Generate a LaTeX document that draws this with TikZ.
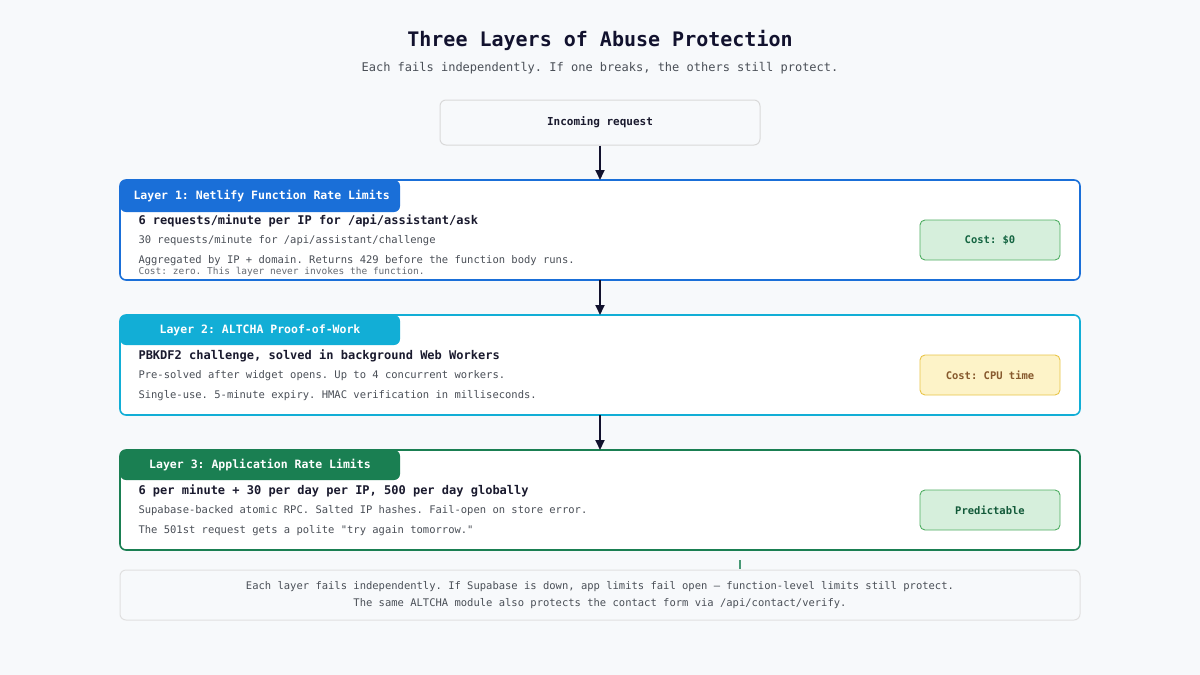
\documentclass[tikz,border=0pt]{standalone}
\usepackage{fontspec}
\setmonofont{DejaVu Sans Mono}
\usetikzlibrary{arrows.meta}
\definecolor{bg}{HTML}{F7F9FB}
\definecolor{navy}{HTML}{12122E}
\definecolor{blueL}{HTML}{1A6FD8}
\definecolor{cyanL}{HTML}{12AED6}
\definecolor{greenL}{HTML}{1A7F52}
\definecolor{txt}{HTML}{1A1A2E}
\definecolor{gtxt}{HTML}{4A4F57}
\definecolor{gbox}{HTML}{D6EFDC}
\definecolor{gboxb}{HTML}{4FAE62}
\definecolor{ybox}{HTML}{FDF3C8}
\definecolor{yboxb}{HTML}{E9C548}
\tikzset{
 every node/.style={font=\ttfamily},
 layer/.style={draw=#1,line width=1.6pt,fill=white,rounded corners=6pt},
 tab/.style={fill=#1,rounded corners=6pt},
 tabt/.style={text=white,font=\ttfamily\bfseries\fontsize{11.5}{13}\selectfont,anchor=west},
 main/.style={text=txt,font=\ttfamily\bfseries\fontsize{12}{14}\selectfont,anchor=west},
 sub/.style={text=gtxt,font=\ttfamily\fontsize{10.5}{12}\selectfont,anchor=west},
 tiny/.style={text=gtxt!85,font=\ttfamily\fontsize{9.5}{11}\selectfont,anchor=west},
 cost/.style={rounded corners=5pt,line width=0.9pt,minimum width=140pt,minimum height=40pt,font=\ttfamily\bfseries\fontsize{10.5}{12}\selectfont},
 arr/.style={-{Triangle[length=10pt,width=9pt]},line width=1.8pt,draw=navy},
}
\begin{document}
\begin{tikzpicture}[x=1pt,y=-1pt]
\useasboundingbox (0,0) rectangle (1200,675);
\fill[bg] (0,0) rectangle (1200,675);
\node[font=\ttfamily\bfseries\fontsize{20}{24}\selectfont,text=navy] (title) at (600,40) {Three Layers of Abuse Protection};
\node[font=\ttfamily\fontsize{12}{14}\selectfont,text=gtxt] (subt) at (600,68) {Each fails independently. If one breaks, the others still protect.};
\node[draw=black!15,fill=bg,rounded corners=6pt,line width=1pt,minimum width=320pt,minimum height=45pt,font=\ttfamily\bfseries\fontsize{11}{13}\selectfont,text=txt] (inc) at (600,122.5) {Incoming request};
% layer 1
\draw[layer=blueL] (120,180) rectangle (1080,280);
\fill[tab=blueL] (120,180) rectangle (400,212);
\node[tabt] (t1) at (130,196) {Layer 1: Netlify Function Rate Limits};
\node[main] (m1) at (135,221) {6 requests/minute per IP for /api/assistant/ask};
\node[sub] (s1a) at (135,241) {30 requests/minute for /api/assistant/challenge};
\node[sub] (s1b) at (135,261) {Aggregated by IP + domain. Returns 429 before the function body runs.};
\node[tiny] (s1c) at (135,272) {Cost: zero. This layer never invokes the function.};
\node[cost,fill=gbox,draw=gboxb,text=greenL!80!black] (c1) at (990,240) {Cost: \$0};
% layer 2
\draw[layer=cyanL] (120,315) rectangle (1080,415);
\fill[tab=cyanL] (120,315) rectangle (400,345);
\node[tabt,anchor=center] (t2) at (260,330) {Layer 2: ALTCHA Proof-of-Work};
\node[main] (m2) at (135,356) {PBKDF2 challenge, solved in background Web Workers};
\node[sub] (s2a) at (135,376) {Pre-solved after widget opens. Up to 4 concurrent workers.};
\node[sub] (s2b) at (135,396) {Single-use. 5-minute expiry. HMAC verification in milliseconds.};
\node[cost,fill=ybox,draw=yboxb,text=brown!70!black] (c2) at (990,375) {Cost: CPU time};
% layer 3
\draw[layer=greenL] (120,450) rectangle (1080,550);
\fill[tab=greenL] (120,450) rectangle (400,480);
\node[tabt,anchor=center] (t3) at (260,465) {Layer 3: Application Rate Limits};
\node[main] (m3) at (135,491) {6 per minute + 30 per day per IP, 500 per day globally};
\node[sub] (s3a) at (135,511) {Supabase-backed atomic RPC. Salted IP hashes. Fail-open on store error.};
\node[sub] (s3b) at (135,531) {The 501st request gets a polite "try again tomorrow."};
\node[cost,fill=gbox,draw=gboxb,text=greenL!70!black] (c3) at (990,510) {Predictable};
% arrows
\coordinate (l1t) at (600,180); \coordinate (l1b) at (600,280);
\coordinate (l2t) at (600,315); \coordinate (l2b) at (600,415);
\coordinate (l3t) at (600,450);
\draw[arr] (inc.south) -- (l1t);
\draw[arr] (l1b) -- (l2t);
\draw[arr] (l2b) -- (l3t);
\coordinate (tk1) at (740,560); \coordinate (tk2) at (740,569);
\draw[greenL!80,line width=1.5pt] (tk1) -- (tk2);
% footer
\node[draw=black!12,fill=bg,rounded corners=6pt,line width=1pt,minimum width=960pt,minimum height=50pt,align=center,text=gtxt,font=\ttfamily\fontsize{10.5}{17}\selectfont] (foot) at (600,595) {Each layer fails independently. If Supabase is down, app limits fail open — function-level limits still protect.\\The same ALTCHA module also protects the contact form via /api/contact/verify.};
\end{tikzpicture}
\end{document}
